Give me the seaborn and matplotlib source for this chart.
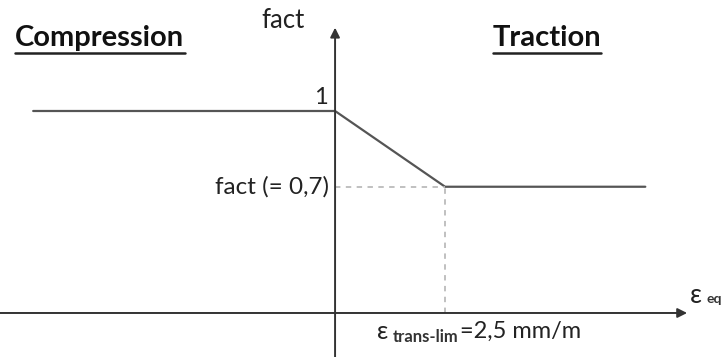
import matplotlib
matplotlib.use('Agg')
import matplotlib.pyplot as plt
import seaborn as sns
import pandas as pd

sns.set_theme(style='white')
plt.rcParams['font.family'] = ['Lato', 'DejaVu Sans']

# schematic law : fact vs equivalent strain (mm/m)
eps = [-6.86, 0.0, 2.5, 7.05]
fact = [1.0, 1.0, 0.7, 0.7]
eps_lim = 2.5
fact_lim = 0.7
axis_y = 0.2   # level where the eps axis is drawn (schematic, not to scale)

df = pd.DataFrame({'eps': eps, 'fact': fact})

fig = plt.figure(figsize=(7.21, 3.57), dpi=100)
ax = fig.add_axes([0, 0, 1, 1])

txt = '#222222'

# curve
sns.lineplot(data=df, x='eps', y='fact', ax=ax, color='#555555', lw=1.6, sort=False)

# dashed guides
ax.plot([0, eps_lim], [fact_lim, fact_lim], ls=(0, (3, 3)), color='#bbbbbb', lw=1.3)
ax.plot([eps_lim, eps_lim], [axis_y, fact_lim], ls=(0, (3, 3)), color='#bbbbbb', lw=1.3)

# axes with arrows
ax.annotate('', xy=(8.0, axis_y), xytext=(-7.7, axis_y),
            arrowprops=dict(arrowstyle='-|>', color='#333333', lw=1.4, mutation_scale=14,
                            shrinkA=0, shrinkB=0))
ax.annotate('', xy=(0, 1.33), xytext=(0, 0.0),
            arrowprops=dict(arrowstyle='-|>', color='#333333', lw=1.4, mutation_scale=14,
                            shrinkA=0, shrinkB=0))

ax.set_xlim(-7.614, 8.77)
ax.set_ylim(0.0257, 1.4396)
ax.axis('off')

# labels
ax.text(-1.18, 1.36, 'fact', fontsize=18.5, ha='center', va='center', color=txt)
ax.text(-0.16, 1.055, '1', fontsize=17, ha='right', va='center', color=txt)
ax.text(-0.14, fact_lim, 'fact (= 0,7)', fontsize=17.5, ha='right', va='center', color=txt)
ax.text(-7.27, 1.29, 'Compression', fontsize=21, fontweight='bold', ha='left', va='center',
        color='#111111')
ax.text(3.59, 1.29, 'Traction', fontsize=21, fontweight='bold', ha='left', va='center',
        color='#111111')
ax.plot([-7.27, -3.41], [1.228, 1.228], color='#222222', lw=1.8)
ax.plot([3.59, 6.05], [1.228, 1.228], color='#222222', lw=1.8)

ax.text(0.94, 0.125, r'$\mathregular{\varepsilon}$', fontsize=18, ha='left', va='center',
        color=txt)
ax.text(1.30, 0.103, 'trans-lim', fontsize=12, fontweight='bold', ha='left', va='center',
        color='#333333')
ax.text(2.84, 0.126, '=2,5 mm/m', fontsize=17, ha='left', va='center', color=txt)

ax.text(8.05, 0.27, r'$\mathregular{\varepsilon}$', fontsize=19, ha='left', va='center',
        color=txt)
ax.text(8.43, 0.255, 'eq', fontsize=10, fontweight='bold', ha='left', va='center',
        color='#333333')

fig.savefig('out.png', dpi=100)
